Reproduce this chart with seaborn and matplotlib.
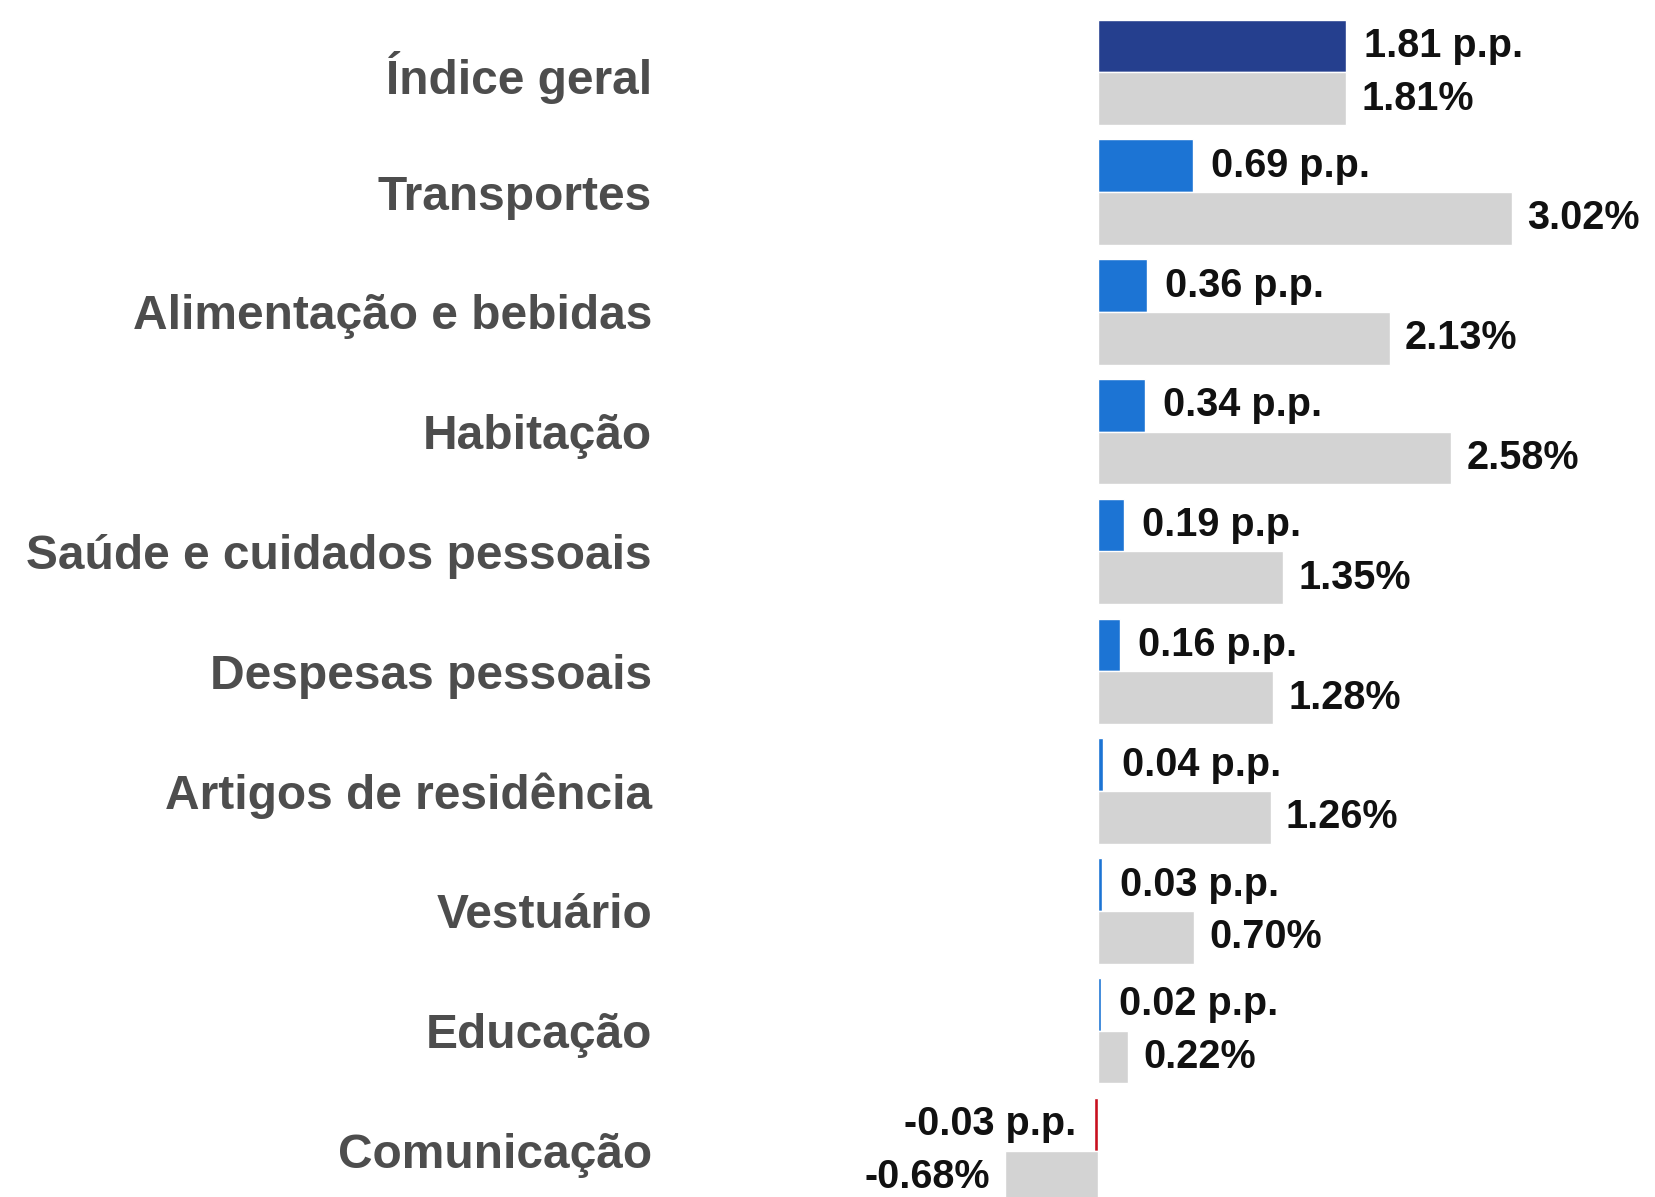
import matplotlib
matplotlib.use("Agg")
import matplotlib.pyplot as plt
import seaborn as sns
import pandas as pd

categories = ['Índice geral', 'Transportes', 'Alimentação e bebidas', 'Habitação',
              'Saúde e cuidados pessoais', 'Despesas pessoais', 'Artigos de residência',
              'Vestuário', 'Educação', 'Comunicação']
contribution = [1.81, 0.69, 0.36, 0.34, 0.19, 0.16, 0.04, 0.03, 0.02, -0.03]
variation = [1.81, 3.02, 2.13, 2.58, 1.35, 1.28, 1.26, 0.70, 0.22, -0.68]
series_names = ['Contribuição (p.p.)', 'Variação (%)']

sns.set_theme(style="white")
plt.rcParams['font.family'] = ['Liberation Sans', 'DejaVu Sans']

df = pd.DataFrame({
    'categoria': categories * 2,
    'valor': contribution + variation,
    'serie': [series_names[0]] * len(categories) + [series_names[1]] * len(categories),
})

W, H = 1655, 1197
fig = plt.figure(figsize=(W / 100, H / 100), dpi=100)
left_px = 700
ax = fig.add_axes([left_px / W, 0, 1 - left_px / W, 1])

sns.barplot(data=df, y='categoria', x='valor', hue='serie', order=categories,
            hue_order=series_names, orient='h', width=0.88, gap=0,
            palette={series_names[0]: '#1C74D4', series_names[1]: '#D3D3D3'},
            saturation=1, legend=False, ax=ax)

# recolor contribution bars
navy, blue, red = '#253F8E', '#1C74D4', '#C8101E'
for i, p in enumerate(ax.containers[0]):
    if i == 0:
        p.set_facecolor(navy)
    elif contribution[i] < 0:
        p.set_facecolor(red)
    else:
        p.set_facecolor(blue)

ax.bar_label(ax.containers[0], labels=[f"{v:.2f} p.p." for v in contribution],
             padding=13, fontsize=28.5, fontweight='bold', color='#111111')
ax.bar_label(ax.containers[1], labels=[f"{v:.2f}%" for v in variation],
             padding=11, fontsize=28.5, fontweight='bold', color='#111111')

px_per_unit = 137.0
zero_px = 1098
ax.set_xlim((left_px - zero_px) / px_per_unit, (W - zero_px) / px_per_unit)
pitch = 119.8
first_center = 72.3
ax.set_ylim((H - first_center) / pitch, -first_center / pitch)

ax.set_xlabel('')
ax.set_ylabel('')
ax.set_xticks([])
ax.tick_params(axis='y', length=0, pad=(left_px - 652) * 0.72)
for lbl in ax.get_yticklabels():
    lbl.set_fontsize(34.5)
    lbl.set_fontweight('bold')
    lbl.set_color('#4D4D4D')
for s in ax.spines.values():
    s.set_visible(False)

fig.savefig('out.png', dpi=100, facecolor='white')
